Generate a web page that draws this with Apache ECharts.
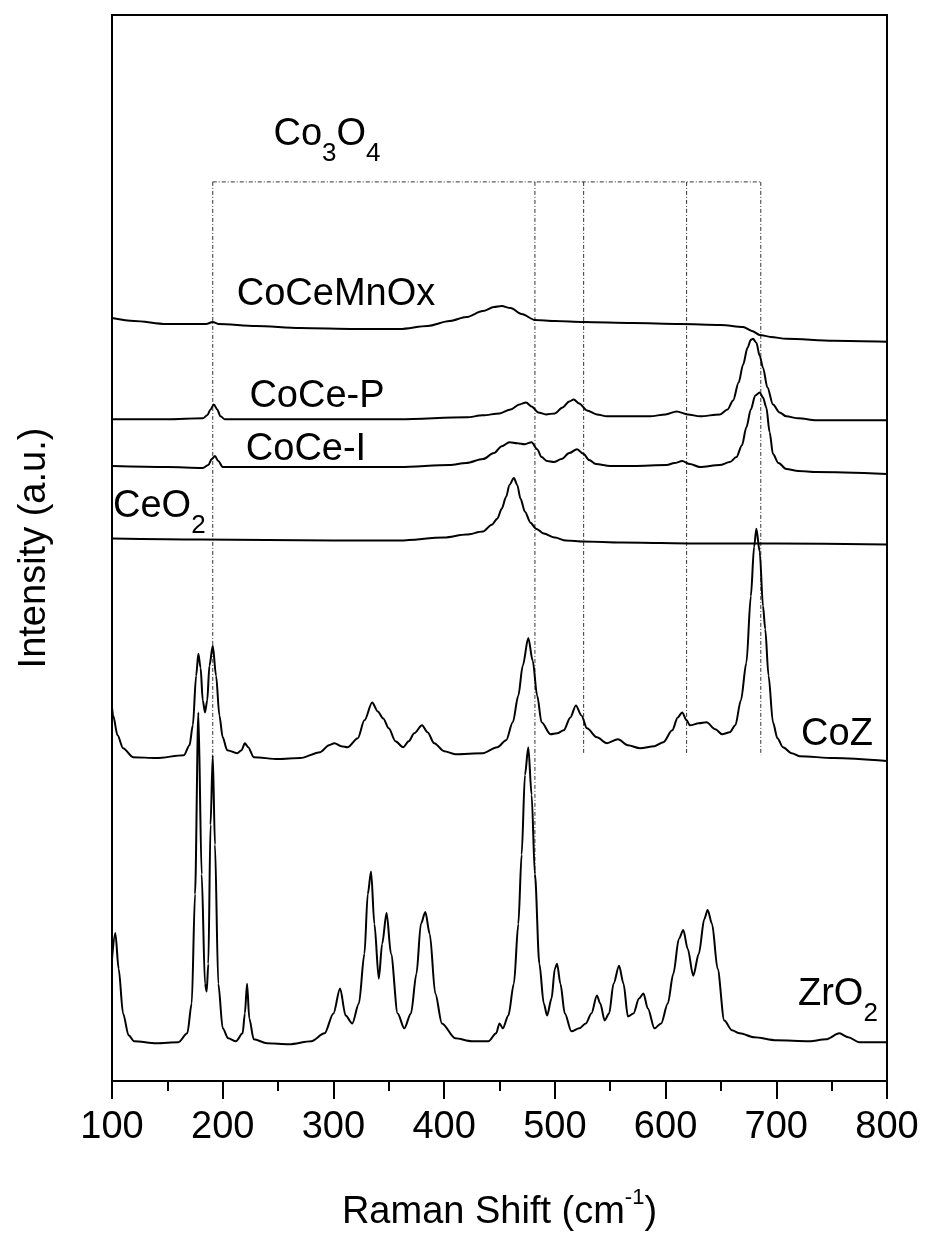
<!DOCTYPE html>
<html>
<head>
<meta charset="utf-8">
<script src="https://cdn.jsdelivr.net/npm/echarts@6/dist/echarts.min.js"></script>
<style>
  html, body { margin: 0; padding: 0; background: #fff; }
  #chart { width: 925px; height: 1237px; }
</style>
</head>
<body>
<div id="chart"></div>
<script>
'use strict';

// x tick labels (Raman shift, cm-1)
var xTicks = [100, 200, 300, 400, 500, 600, 700, 800];

// spectra: [raman shift, intensity (a.u., stacked offset included)]
var zro2 = [[100,123],[103,149],[106,113],[110,68],[115,46],[120,40],[140,38],[160,39],[168,48],[172,78],[175,188],[178,371],[181,208],[184,98],[185.5,90],[187,118],[189,258],[191,328],[193,238],[196,98],[200,53],[205,43],[212,40],[218,48],[220,68],[222,98],[224,63],[228,42],[240,38],[260,37],[280,40],[292,48],[300,68],[306,93],[311,66],[317,58],[323,78],[328,128],[331,188],[334,211],[337,158],[341,103],[344,138],[348,169],[352,128],[358,68],[364,53],[370,68],[375,108],[379,158],[383,170],[387,148],[392,88],[398,58],[410,43],[425,40],[440,40],[447,48],[450,58],[453,53],[458,66],[463,98],[467,158],[470,228],[473,308],[476,336],[479,288],[482,208],[486,118],[490,78],[493,66],[497,83],[500,113],[502,118],[505,98],[509,68],[515,50],[522,53],[528,58],[533,68],[538,86],[541,78],[545,61],[549,68],[553,98],[558,116],[562,98],[566,65],[571,68],[576,83],[580,88],[584,73],[590,53],[596,58],[602,78],[607,108],[612,143],[616,152],[620,133],[625,106],[630,128],[635,163],[638,172],[642,158],[647,113],[653,61],[660,51],[667,48],[680,44],[700,41],[730,40],[745,42],[757,48],[765,44],[775,39],[790,39],[800,39]];

var coz = [[100,376],[101,368],[105,348],[110,335],[119,326],[140,325],[165,328],[170,338],[173,358],[176,408],[178,430],[180,416],[182,383],[184,371],[186,383],[188,418],[191,438],[194,408],[197,368],[200,346],[204,333],[213,330],[217,333],[220,340],[223,336],[228,326],[250,324],[270,325],[288,331],[296,338],[301,340],[307,337],[313,336],[322,345],[328,363],[335,381],[340,372],[345,365],[350,355],[356,342],[363,336],[368,342],[373,350],[380,358],[385,351],[391,340],[400,332],[410,329],[435,330],[448,336],[456,343],[462,361],[467,388],[471,418],[476,446],[480,423],[484,388],[488,361],[496,349],[502,350],[508,353],[514,366],[519,378],[524,368],[529,355],[538,346],[547,340],[557,344],[566,338],[577,335],[590,337],[598,341],[606,353],[611,366],[615,371],[619,363],[622,358],[630,360],[637,361],[645,354],[651,349],[658,351],[663,358],[668,383],[673,421],[677,488],[680,538],[682,556],[685,533],[688,478],[690,455],[693,408],[697,361],[701,345],[706,336],[714,330],[721,327],[752,325],[800,322]];

var ceo2 = [[100,546],[180,545],[300,544],[360,544],[400,547],[420,550],[435,553],[443,560],[448,566],[452,576],[456,588],[459,600],[463,607],[466,600],[469,586],[473,573],[478,562],[483,556],[490,551],[500,547],[510,544],[526,543],[560,542],[631,541],[700,541],[800,540]];

var coceI = [[100,619],[150,618],[182,617],[187,620],[190,626],[193,629],[196,624],[200,618],[250,618],[300,618],[360,618],[405,620],[420,622],[435,626],[445,632],[452,639],[459,643],[466,642],[473,641],[479,643],[484,636],[488,628],[493,624],[499,623],[506,626],[513,632],[520,636],[526,631],[531,625],[537,621],[550,619],[571,619],[601,620],[608,622],[615,624],[622,621],[631,618],[649,620],[658,623],[664,628],[669,640],[673,658],[677,676],[681,690],[685,693],[688,688],[691,678],[694,653],[697,631],[702,622],[709,616],[720,614],[736,613],[800,611]];

var coceP = [[100,666],[150,666],[182,667],[186,670],[189,676],[192,681],[195,676],[198,669],[202,666],[250,666],[300,666],[360,666],[420,668],[435,670],[450,672],[460,676],[468,681],[474,683],[479,679],[485,673],[492,671],[500,672],[507,678],[513,684],[517,686],[522,682],[529,675],[538,671],[547,669],[586,669],[600,671],[610,674],[620,671],[631,669],[649,671],[656,676],[661,685],[666,703],[670,721],[674,738],[677,746],[679,747],[682,743],[685,730],[688,718],[692,698],[697,681],[703,673],[709,669],[720,667],[736,665],[800,665]];

var coceMnOx = [[100,768],[120,765],[149,762],[185,762],[191,764],[196,762],[230,760],[270,758],[320,757],[360,757],[385,760],[405,765],[420,769],[435,775],[445,779],[452,780],[460,778],[470,772],[482,766],[500,765],[526,764],[570,763],[613,762],[650,761],[670,759],[678,755],[685,751],[695,749],[709,747],[752,745],[800,744]];

// Co3O4 reference band positions and where each dotted marker ends
var co3o4X = [191, 482, 526, 619, 686];
var co3o4End = [328, 205, 330, 328, 328];
var co3o4Top = 905;

var chart = echarts.init(document.getElementById('chart'));

var font = 'Liberation Sans, Arial, sans-serif';

function spectrum(name, data) {
	return {
		name: name,
		type: 'line',
		data: data,
		showSymbol: false,
		smooth: 0.3,
		smoothMonotone: 'x',
		lineStyle: { color: '#000', width: 2 },
		silent: true,
		z: 3
	};
}

var series = [
	spectrum('ZrO2', zro2),
	spectrum('CoZ', coz),
	spectrum('CeO2', ceo2),
	spectrum('CoCe-I', coceI),
	spectrum('CoCe-P', coceP),
	spectrum('CoCeMnOx', coceMnOx)
];

// dotted Co3O4 markers: a top bar and one drop line per band
var dashDot = { color: '#333', width: 1, type: [4, 2, 1, 2] };
series.push({
	type: 'line', showSymbol: false, silent: true, z: 2,
	data: [[co3o4X[0], co3o4Top], [co3o4X[co3o4X.length - 1], co3o4Top]],
	lineStyle: dashDot
});
co3o4X.forEach(function(x, i) {
	series.push({
		type: 'line', showSymbol: false, silent: true, z: 2,
		data: [[x, co3o4Top], [x, co3o4End[i]]],
		lineStyle: dashDot
	});
});

var rich = {
	a: { fontSize: 38, fontFamily: font },
	b: { fontSize: 26, padding: [38, 0, 0, 0], fontFamily: font },
	p: { fontSize: 22, padding: [0, 0, 30, 0], fontFamily: font }
};

function label(x, y, text, align) {
	return {
		type: 'text', x: x, y: y, silent: true,
		style: {
			text: text, rich: rich, fill: '#000',
			fontSize: 38, fontFamily: font,
			align: align || 'center', verticalAlign: 'middle'
		}
	};
}

var option = {
	animation: false,
	backgroundColor: '#fff',
	grid: {
		left: 112, right: 38, top: 15, bottom: 149,
		show: true, borderColor: '#000', borderWidth: 2
	},
	xAxis: {
		type: 'value',
		min: 100, max: 800, interval: 100,
		name: '{a|Raman Shift (cm}{p|-1}{a|)}',
		nameLocation: 'middle',
		nameGap: 106,
		nameTextStyle: { rich: rich, color: '#000' },
		axisLine: { lineStyle: { color: '#000', width: 2 } },
		axisTick: { show: true, inside: false, length: 18, lineStyle: { color: '#000', width: 2 } },
		minorTick: { show: true, splitNumber: 2, length: 10, lineStyle: { color: '#000', width: 2 } },
		axisLabel: {
			fontSize: 38, color: '#000', fontFamily: font, margin: 28,
			formatter: function(v) { return xTicks.indexOf(v) >= 0 ? String(v) : ''; }
		},
		splitLine: { show: false }
	},
	yAxis: {
		type: 'value',
		min: 0, max: 1073,
		name: 'Intensity (a.u.)',
		nameLocation: 'middle',
		nameGap: 58,
		nameRotate: 90,
		nameTextStyle: { fontSize: 38, color: '#000', fontFamily: font },
		axisLine: { show: true, lineStyle: { color: '#000', width: 2 } },
		axisTick: { show: false },
		axisLabel: { show: false },
		splitLine: { show: false }
	},
	graphic: [
		label(327, 135, '{a|Co}{b|3}{a|O}{b|4}'),
		label(336, 295, 'CoCeMnOx'),
		label(317, 397, 'CoCe-P'),
		label(306, 450, 'CoCe-I'),
		label(113, 507, '{a|CeO}{b|2}', 'left'),
		label(837, 735, 'CoZ'),
		label(798, 995, '{a|ZrO}{b|2}', 'left')
	],
	series: series
};

chart.setOption(option);
</script>
</body>
</html>
